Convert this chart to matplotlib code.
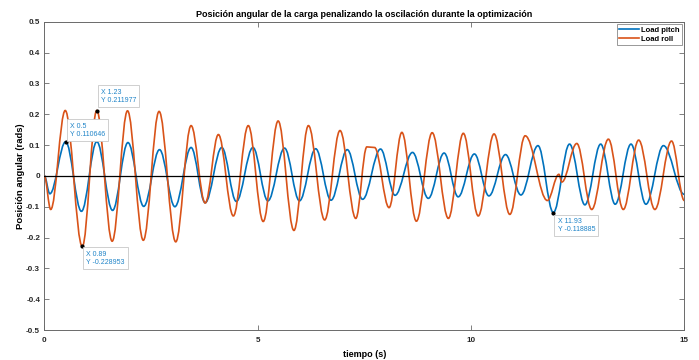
import matplotlib
matplotlib.use("Agg")
import matplotlib.pyplot as plt
from matplotlib.path import Path
from matplotlib.patches import PathPatch
from matplotlib.lines import Line2D

plt.rcParams['font.family'] = ['Liberation Sans', 'DejaVu Sans']

# Turning points of the load pitch angle (time in s, angle in rad)
pitch_t = [0.0, 0.13, 0.50, 0.87, 1.23, 1.60, 1.96, 2.33, 2.70, 3.06, 3.44, 3.77,
           4.16, 4.50, 4.89, 5.24, 5.63, 5.98, 6.36, 6.72, 7.10, 7.46, 7.88, 8.22,
           8.63, 9.00, 9.37, 9.70, 10.08, 10.42, 10.81, 11.17, 11.57, 11.93, 12.31,
           12.67, 13.04, 13.38, 13.75, 14.10, 14.51, 15.0]
pitch_y = [0.0, -0.058, 0.110646, -0.115, 0.111, -0.112, 0.108, -0.099, 0.085, -0.100,
           0.092, -0.087, 0.092, -0.083, 0.092, -0.081, 0.090, -0.081, 0.088, -0.079,
           0.085, -0.076, 0.087, -0.063, 0.076, -0.073, 0.074, -0.068, 0.071, -0.065,
           0.069, -0.062, 0.098, -0.118885, 0.103, -0.094, 0.103, -0.092, 0.103, -0.092,
           0.098, -0.060]

# Turning points of the load roll angle (time in s, angle in rad)
roll_t = [0.0, 0.15, 0.49, 0.89, 1.23, 1.59, 1.95, 2.32, 2.69, 3.08, 3.44, 3.77,
          4.08, 4.43, 4.78, 5.13, 5.48, 5.85, 6.19, 6.57, 6.93, 7.30, 7.56, 7.74,
          8.08, 8.38, 8.72, 9.09, 9.47, 9.82, 10.17, 10.54, 10.91, 11.27, 11.79,
          12.06, 12.13, 12.48, 12.83, 13.22, 13.57, 13.93, 14.31, 14.70, 15.0]
roll_y = [0.0, -0.109, 0.212, -0.228953, 0.211977, -0.212, 0.211, -0.209, 0.209, -0.214,
          0.163, -0.088, 0.134, -0.130, 0.163, -0.148, 0.178, -0.177, 0.163, -0.143,
          0.147, -0.138, 0.094, 0.092, -0.103, 0.141, -0.147, 0.140, -0.138, 0.138,
          -0.130, 0.136, -0.125, 0.130, -0.080, 0.005, -0.020, 0.105, -0.109, 0.119,
          -0.109, 0.116, -0.109, 0.113, -0.080]

# Data tips
tip_x = [0.5, 1.23, 0.89, 11.93]
tip_y = [0.110646, 0.211977, -0.228953, -0.118885]
tip_labels = ["X 0.5\nY 0.110646", "X 1.23\nY 0.211977",
              "X 0.89\nY -0.228953", "X 11.93\nY -0.118885"]
tip_offsets = [(3, 3), (3, 5), (3, -3), (3, -4)]
tip_va = ['bottom', 'bottom', 'top', 'top']

x_ticks = [0, 5, 10, 15]
y_ticks = [-0.5, -0.4, -0.3, -0.2, -0.1, 0, 0.1, 0.2, 0.3, 0.4, 0.5]
y_ticklabels = ['-0.5', '-0.4', '-0.3', '-0.2', '-0.1', '0', '0.1', '0.2', '0.3', '0.4', '0.5']

BLUE = '#0072BD'
ORANGE = '#D95319'


def smooth_path(ts, ys, k=0.3634):
    """Cubic Bezier segments between successive turning points (flat tangents)."""
    verts = [(ts[0], ys[0])]
    codes = [Path.MOVETO]
    for t0, y0, t1, y1 in zip(ts[:-1], ys[:-1], ts[1:], ys[1:]):
        dt = t1 - t0
        verts += [(t0 + k * dt, y0), (t1 - k * dt, y1), (t1, y1)]
        codes += [Path.CURVE4] * 3
    return Path(verts, codes)


fig = plt.figure(figsize=(6.99, 3.60), dpi=100)
ax = fig.add_axes([0.0634, 0.0833, 0.9156, 0.8564])

ax.add_patch(PathPatch(smooth_path(pitch_t, pitch_y), fill=False,
                       edgecolor=BLUE, lw=1.2, zorder=3))
ax.add_patch(PathPatch(smooth_path(roll_t, roll_y), fill=False,
                       edgecolor=ORANGE, lw=1.2, zorder=4))
ax.axhline(0, color='black', lw=0.9, zorder=5)

ax.set_xlim(0, 15)
ax.set_ylim(-0.5, 0.5)
ax.set_xticks(x_ticks)
ax.set_yticks(y_ticks)
ax.set_yticklabels(y_ticklabels)

for s in ax.spines.values():
    s.set_color('#6a6a6a')
    s.set_linewidth(0.7)
ax.tick_params(direction='in', length=3.5, width=0.6, colors='#6a6a6a',
               labelcolor='#262626', labelsize=5.8, top=True, right=True, pad=3)
ax.tick_params(axis='x', pad=5)
for lab in ax.get_xticklabels() + ax.get_yticklabels():
    lab.set_fontweight('bold')

ax.set_title('Posición angular de la carga penalizando la oscilación durante la optimización',
             fontsize=6.5, fontweight='bold', pad=3.5)
ax.set_xlabel('tiempo (s)', fontsize=6.5, fontweight='bold', labelpad=4)
ax.set_ylabel('Posición angular (rads)', fontsize=6.8, fontweight='bold', labelpad=1)

ax.plot(tip_x, tip_y, 'o', color='black', ms=2, zorder=6)
for x, y, lab, off, va in zip(tip_x, tip_y, tip_labels, tip_offsets, tip_va):
    ax.annotate(lab, xy=(x, y), xytext=off, textcoords='offset points',
                ha='left', va=va, fontsize=5, color='#1f84c8', zorder=7,
                bbox=dict(boxstyle='square,pad=0.45', fc='white', ec='#c8c8c8', lw=0.6))

handles = [Line2D([], [], color=BLUE, lw=1.2), Line2D([], [], color=ORANGE, lw=1.2)]
leg = ax.legend(handles, ['Load pitch', 'Load roll'], loc='upper right',
                frameon=True, fancybox=False, edgecolor='#6a6a6a',
                borderaxespad=0.3, handlelength=2.6, handletextpad=0.3,
                borderpad=0.3, labelspacing=0.2, prop={'weight': 'bold', 'size': 5.5})
leg.get_frame().set_linewidth(0.6)

fig.savefig('out.png', dpi=100, facecolor='white')
